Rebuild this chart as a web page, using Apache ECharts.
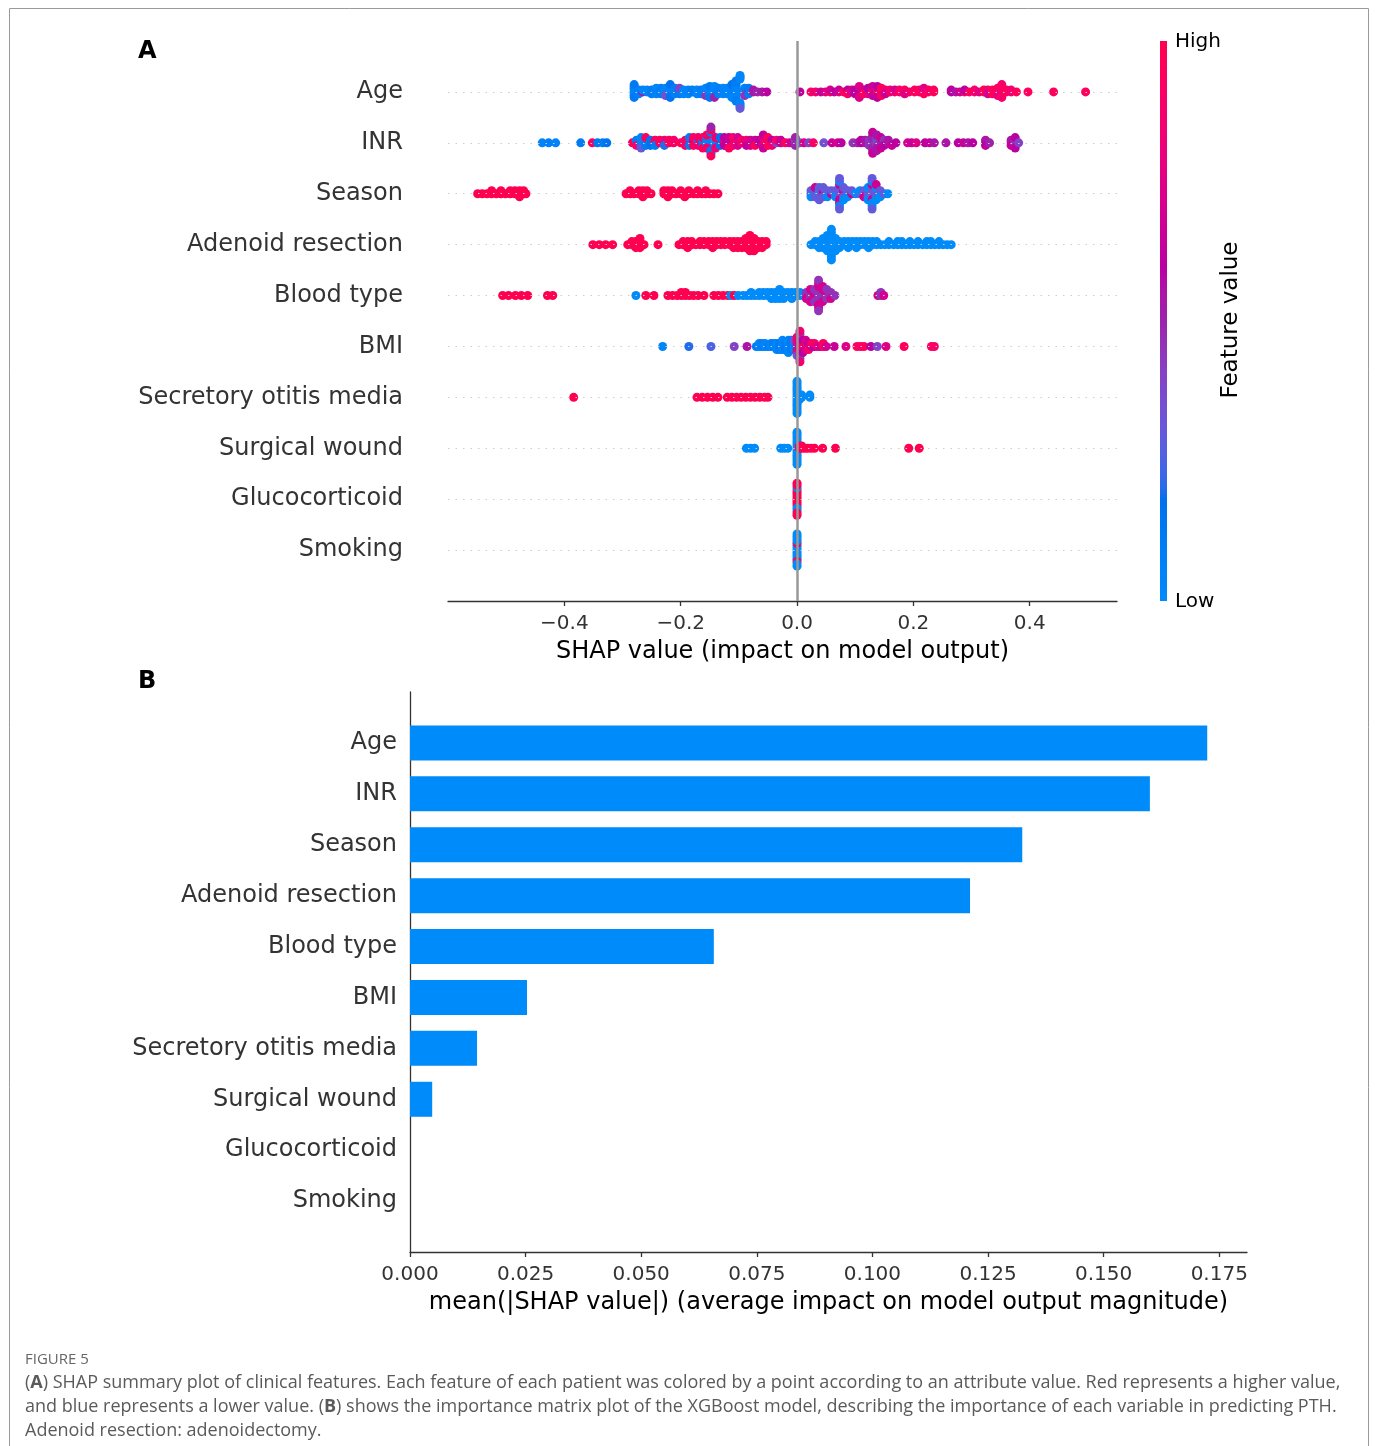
<!DOCTYPE html>
<html>
<head>
<meta charset="utf-8">
<script src="https://cdn.jsdelivr.net/npm/echarts@6/dist/echarts.min.js"></script>
<style>
  html, body { margin: 0; padding: 0; background: #fff; }
  #chart { width: 1375px; height: 1446px; }
</style>
</head>
<body>
<div id="chart"></div>
<script>
// Features, most important first
const featureNames = ['Age', 'INR', 'Season', 'Adenoid resection', 'Blood type', 'BMI',
  'Secretory otitis media', 'Surgical wound', 'Glucocorticoid', 'Smoking'];

// Mean |SHAP| per feature (panel B)
const meanAbsShap = [0.1724, 0.160, 0.1324, 0.1211, 0.0657, 0.0253, 0.0145, 0.0048, 0, 0];

const shapTicks = [-0.4, -0.2, 0.0, 0.2, 0.4];
const meanTicks = [0, 0.025, 0.05, 0.075, 0.1, 0.125, 0.15, 0.175];

// Per-patient SHAP values: [shap value, normalised feature value (0 low .. 1 high), patients]
const ageDots = [
  [-0.280, 0.05, 6], [-0.280, 0.12, 2], [-0.272, 0.08, 3], [-0.265, 0.55, 1], [-0.265, 0.05, 1],
  [-0.258, 0.05, 2], [-0.250, 0.10, 3], [-0.242, 0.40, 1], [-0.242, 0.05, 3], [-0.234, 0.08, 4],
  [-0.226, 0.05, 4], [-0.226, 0.35, 1], [-0.218, 0.05, 6], [-0.218, 0.15, 2], [-0.210, 0.08, 4],
  [-0.202, 0.10, 3], [-0.202, 0.40, 1], [-0.195, 0.05, 3], [-0.187, 0.05, 3], [-0.180, 0.10, 2],
  [-0.172, 0.05, 3], [-0.165, 0.08, 3], [-0.157, 0.05, 4], [-0.157, 0.45, 1], [-0.150, 0.05, 5],
  [-0.150, 0.12, 2], [-0.142, 0.05, 6], [-0.142, 0.50, 1], [-0.135, 0.08, 4], [-0.127, 0.45, 2],
  [-0.127, 0.05, 2], [-0.120, 0.05, 4], [-0.112, 0.05, 7], [-0.112, 0.15, 1], [-0.105, 0.05, 9],
  [-0.105, 0.10, 3], [-0.098, 0.05, 6], [-0.098, 0.30, 1], [-0.090, 0.08, 4], [-0.090, 0.45, 1],
  [-0.083, 0.50, 2], [-0.083, 0.10, 2], [-0.075, 0.55, 2], [-0.068, 0.50, 1], [-0.060, 0.55, 1],
  [-0.052, 0.60, 1],
  [0.005, 0.60, 1], [0.024, 0.90, 1], [0.032, 0.85, 1], [0.041, 0.65, 1], [0.049, 0.75, 1],
  [0.057, 0.95, 1], [0.057, 0.70, 1], [0.064, 0.60, 1], [0.072, 0.80, 1], [0.072, 0.65, 1],
  [0.080, 0.95, 1], [0.087, 0.60, 2], [0.087, 0.90, 1], [0.094, 0.70, 2], [0.100, 0.60, 3],
  [0.107, 0.60, 5], [0.107, 0.75, 2], [0.114, 0.70, 2], [0.114, 0.95, 1], [0.122, 0.80, 3],
  [0.122, 0.60, 1], [0.130, 0.90, 4], [0.130, 0.65, 2], [0.138, 0.85, 5], [0.138, 0.60, 2],
  [0.145, 0.75, 3], [0.145, 0.95, 2], [0.152, 0.90, 2], [0.152, 0.65, 1], [0.160, 0.85, 2],
  [0.168, 0.95, 1], [0.168, 0.70, 1], [0.176, 0.90, 2], [0.185, 0.95, 2], [0.185, 0.75, 1],
  [0.193, 0.85, 1], [0.202, 0.95, 2], [0.210, 0.90, 2], [0.218, 0.95, 3], [0.218, 0.75, 1],
  [0.226, 0.90, 2], [0.235, 0.95, 2], [0.265, 0.60, 2], [0.273, 0.55, 1], [0.280, 0.70, 1],
  [0.288, 0.85, 1], [0.288, 0.60, 1], [0.296, 0.95, 1], [0.305, 0.90, 2], [0.313, 0.75, 1],
  [0.321, 0.95, 2], [0.328, 0.90, 2], [0.328, 0.70, 1], [0.336, 0.95, 3], [0.345, 0.95, 4],
  [0.345, 0.80, 1], [0.352, 0.90, 3], [0.360, 0.95, 2], [0.368, 0.85, 2], [0.377, 0.95, 1],
  [0.397, 0.95, 1], [0.441, 0.95, 1], [0.496, 0.95, 1]
];

const inrDots = [
  [-0.438, 0.05, 1], [-0.427, 0.08, 1], [-0.415, 0.05, 1], [-0.372, 0.10, 1], [-0.352, 0.95, 1],
  [-0.343, 0.12, 1], [-0.334, 0.10, 1], [-0.327, 0.15, 1], [-0.283, 0.95, 1], [-0.276, 0.10, 2],
  [-0.276, 0.90, 1], [-0.268, 0.05, 4], [-0.268, 0.30, 1], [-0.260, 0.10, 3], [-0.260, 0.95, 1],
  [-0.252, 0.35, 1], [-0.252, 0.15, 2], [-0.244, 0.90, 2], [-0.244, 0.10, 1], [-0.236, 0.95, 2],
  [-0.228, 0.85, 2], [-0.228, 0.20, 1], [-0.220, 0.95, 2], [-0.212, 0.90, 2], [-0.200, 0.95, 1],
  [-0.192, 0.40, 1], [-0.192, 0.90, 2], [-0.185, 0.95, 2], [-0.185, 0.10, 2], [-0.178, 0.60, 2],
  [-0.178, 0.95, 2], [-0.170, 0.05, 2], [-0.170, 0.85, 2], [-0.162, 0.10, 3], [-0.162, 0.95, 2],
  [-0.155, 0.05, 4], [-0.155, 0.90, 2], [-0.148, 0.10, 3], [-0.148, 0.95, 2], [-0.148, 0.50, 1],
  [-0.140, 0.05, 3], [-0.140, 0.85, 2], [-0.132, 0.95, 2], [-0.132, 0.15, 2], [-0.125, 0.90, 2],
  [-0.125, 0.60, 2], [-0.117, 0.65, 4], [-0.117, 0.95, 1], [-0.110, 0.60, 2], [-0.110, 0.90, 2],
  [-0.102, 0.95, 2], [-0.102, 0.70, 2], [-0.095, 0.90, 2], [-0.087, 0.85, 2], [-0.087, 0.60, 1],
  [-0.080, 0.70, 3], [-0.072, 0.65, 2], [-0.072, 0.95, 1], [-0.065, 0.60, 2], [-0.058, 0.90, 2],
  [-0.058, 0.65, 2], [-0.050, 0.75, 2], [-0.050, 0.95, 2], [-0.043, 0.60, 2], [-0.043, 0.85, 1],
  [-0.035, 0.35, 1], [-0.035, 0.90, 1], [-0.028, 0.65, 2], [-0.020, 0.95, 1], [-0.013, 0.70, 1],
  [-0.003, 0.35, 2], [-0.003, 0.50, 2], [0.005, 0.30, 1], [0.012, 0.75, 1], [0.020, 0.40, 1],
  [0.028, 0.90, 1], [0.046, 0.35, 1], [0.060, 0.65, 1], [0.070, 0.70, 1], [0.076, 0.60, 1],
  [0.096, 0.45, 1], [0.104, 0.50, 1], [0.110, 0.60, 2], [0.117, 0.55, 2], [0.124, 0.45, 3],
  [0.130, 0.50, 4], [0.130, 0.65, 2], [0.137, 0.40, 4], [0.137, 0.55, 3], [0.144, 0.50, 3],
  [0.144, 0.65, 2], [0.150, 0.45, 2], [0.150, 0.60, 1], [0.157, 0.55, 2], [0.163, 0.65, 1],
  [0.170, 0.60, 1], [0.190, 0.70, 1], [0.197, 0.65, 1], [0.205, 0.75, 1], [0.220, 0.60, 1],
  [0.228, 0.65, 1], [0.236, 0.55, 1], [0.256, 0.55, 1], [0.277, 0.60, 1], [0.286, 0.65, 1],
  [0.294, 0.55, 1], [0.302, 0.60, 1], [0.324, 0.55, 2], [0.324, 0.60, 1], [0.331, 0.50, 1],
  [0.368, 0.55, 2], [0.368, 0.65, 1], [0.375, 0.45, 3], [0.375, 0.60, 2], [0.381, 0.40, 1]
];

const seasonDots = [
  [-0.549, 1, 1], [-0.541, 1, 1], [-0.533, 1, 1], [-0.525, 1, 2], [-0.517, 1, 1], [-0.509, 1, 2],
  [-0.501, 1, 1], [-0.493, 1, 2], [-0.485, 1, 2], [-0.477, 1, 3], [-0.470, 1, 2], [-0.466, 1, 1],
  [-0.294, 1, 1], [-0.287, 1, 2], [-0.280, 1, 1], [-0.272, 1, 2], [-0.265, 1, 3], [-0.258, 1, 2],
  [-0.251, 1, 1], [-0.229, 1, 2], [-0.222, 1, 3], [-0.215, 1, 2], [-0.208, 1, 1], [-0.200, 1, 2],
  [-0.193, 1, 1], [-0.186, 1, 2], [-0.178, 1, 1], [-0.171, 1, 2], [-0.164, 1, 1], [-0.157, 1, 2],
  [-0.150, 1, 1], [-0.143, 1, 1], [-0.136, 1, 1],
  [0.024, 0.30, 2], [0.024, 0, 1], [0.031, 0.30, 3], [0.031, 0.67, 1], [0.038, 0, 2],
  [0.038, 0.30, 3], [0.045, 0.67, 2], [0.045, 0.30, 2], [0.052, 0.30, 2], [0.052, 0, 1],
  [0.059, 0.67, 1], [0.059, 0.30, 1], [0.066, 0.30, 2], [0.066, 0, 1], [0.073, 0.30, 4],
  [0.073, 0.67, 3], [0.073, 0, 2], [0.073, 0.30, 2], [0.080, 0.67, 2], [0.080, 0.30, 2],
  [0.080, 0, 1], [0.087, 0.30, 2], [0.087, 0, 1], [0.094, 0.67, 1], [0.094, 0.30, 1],
  [0.101, 0, 1], [0.108, 0.30, 1], [0.108, 0, 1], [0.115, 0.30, 2], [0.115, 0.67, 1],
  [0.122, 0.30, 3], [0.122, 0, 2], [0.129, 0.30, 4], [0.129, 0.67, 2], [0.129, 0, 3],
  [0.129, 0.30, 2], [0.136, 0.30, 3], [0.136, 0, 2], [0.136, 0.67, 1], [0.143, 0.30, 2],
  [0.143, 0, 1], [0.150, 0.30, 1], [0.156, 0, 1]
];

const adenoidDots = [
  [-0.351, 1, 1], [-0.340, 1, 1], [-0.329, 1, 1], [-0.317, 1, 1], [-0.291, 1, 1], [-0.284, 1, 2],
  [-0.277, 1, 3], [-0.270, 1, 4], [-0.263, 1, 1], [-0.239, 1, 1], [-0.203, 1, 1], [-0.196, 1, 2],
  [-0.188, 1, 3], [-0.181, 1, 2], [-0.174, 1, 1], [-0.167, 1, 2], [-0.160, 1, 2], [-0.152, 1, 2],
  [-0.145, 1, 3], [-0.138, 1, 2], [-0.131, 1, 2], [-0.124, 1, 2], [-0.116, 1, 2], [-0.109, 1, 3],
  [-0.102, 1, 3], [-0.095, 1, 3], [-0.088, 1, 4], [-0.081, 1, 6], [-0.074, 1, 5], [-0.067, 1, 3],
  [-0.060, 1, 3], [-0.053, 1, 2],
  [0.024, 0, 1], [0.031, 0, 2], [0.038, 0, 3], [0.045, 0, 4], [0.052, 0, 6], [0.059, 0, 11],
  [0.066, 0, 5], [0.073, 0, 3], [0.081, 0, 2], [0.088, 0, 3], [0.095, 0, 2], [0.102, 0, 3],
  [0.109, 0, 2], [0.116, 0, 2], [0.123, 0, 3], [0.130, 0, 2], [0.137, 0, 2], [0.144, 0, 1],
  [0.151, 0, 1], [0.158, 0, 2], [0.166, 0, 1], [0.173, 0, 2], [0.180, 0, 2], [0.187, 0, 1],
  [0.194, 0, 2], [0.201, 0, 1], [0.208, 0, 2], [0.216, 0, 1], [0.223, 0, 2], [0.230, 0, 2],
  [0.237, 0, 1], [0.244, 0, 2], [0.251, 0, 1], [0.258, 0, 1], [0.265, 0, 1]
];

const bloodDots = [
  [-0.506, 1, 1], [-0.496, 1, 1], [-0.484, 1, 1], [-0.474, 1, 1], [-0.463, 1, 1], [-0.429, 1, 1],
  [-0.420, 1, 1], [-0.277, 0, 1], [-0.260, 1, 1], [-0.246, 1, 1], [-0.222, 1, 1], [-0.214, 1, 1],
  [-0.206, 1, 1], [-0.199, 1, 2], [-0.192, 1, 2], [-0.185, 1, 1], [-0.178, 1, 1], [-0.170, 1, 1],
  [-0.160, 1, 1], [-0.143, 1, 1], [-0.135, 1, 1], [-0.127, 1, 1], [-0.119, 1, 1], [-0.114, 0, 1],
  [-0.108, 1, 1], [-0.101, 0, 1], [-0.093, 0, 1], [-0.086, 0, 1], [-0.079, 0, 2], [-0.072, 0, 1],
  [-0.065, 0, 2], [-0.058, 0, 2], [-0.051, 0, 2], [-0.044, 0, 3], [-0.037, 0, 3], [-0.030, 0, 4],
  [-0.023, 0, 3], [-0.016, 0, 2], [-0.009, 0, 3], [-0.002, 0, 2], [0.005, 0, 2], [0.012, 0, 1],
  [0.016, 0.45, 2], [0.016, 0.70, 1], [0.023, 0.45, 3], [0.023, 0.70, 2], [0.030, 0.70, 3],
  [0.030, 0.45, 2], [0.037, 0.45, 5], [0.037, 0.70, 4], [0.037, 0.45, 2], [0.044, 0.45, 3],
  [0.044, 0.70, 3], [0.051, 0.70, 2], [0.051, 0.45, 2], [0.058, 0.45, 2], [0.058, 0.70, 1],
  [0.065, 0.45, 1], [0.139, 0.70, 1], [0.144, 0.45, 2], [0.149, 0.70, 1]
];

const bmiDots = [
  [-0.231, 0.05, 1], [-0.186, 0.20, 1], [-0.148, 0.25, 1], [-0.108, 0.40, 1], [-0.086, 0.55, 1],
  [-0.070, 0.10, 1], [-0.065, 0.05, 2], [-0.060, 0.10, 2], [-0.055, 0.05, 2], [-0.050, 0.10, 1],
  [-0.045, 0.05, 2], [-0.040, 0.10, 2], [-0.035, 0.05, 3], [-0.030, 0.10, 3], [-0.025, 0.05, 4],
  [-0.020, 0.10, 3], [-0.015, 0.05, 5], [-0.010, 0.10, 4], [-0.005, 0.05, 3], [-0.005, 0.30, 1],
  [0.000, 0.50, 3], [0.000, 0.85, 3], [0.000, 0.30, 1], [0.005, 0.70, 4], [0.005, 0.95, 3],
  [0.005, 0.40, 2], [0.005, 0.85, 2], [0.010, 0.90, 3], [0.010, 0.60, 2], [0.015, 0.95, 2],
  [0.015, 0.70, 2], [0.020, 0.60, 2], [0.020, 0.90, 1], [0.025, 0.65, 1], [0.025, 0.95, 1],
  [0.030, 0.60, 1], [0.030, 0.90, 1], [0.035, 0.75, 1], [0.040, 0.65, 1], [0.045, 0.95, 2],
  [0.050, 0.70, 1], [0.064, 0.65, 1], [0.084, 0.75, 1], [0.103, 0.95, 1], [0.109, 0.90, 1],
  [0.115, 0.95, 1], [0.127, 0.60, 1], [0.138, 0.40, 1], [0.153, 0.75, 1], [0.184, 0.95, 1],
  [0.231, 0.95, 1], [0.236, 0.90, 1]
];

const otitisDots = [
  [-0.384, 1, 1], [-0.172, 1, 1], [-0.163, 1, 1], [-0.154, 1, 1], [-0.145, 1, 1], [-0.136, 1, 1],
  [-0.120, 1, 1], [-0.112, 1, 1], [-0.104, 1, 1], [-0.096, 1, 1], [-0.088, 1, 1], [-0.080, 1, 1],
  [-0.072, 1, 1], [-0.064, 1, 1], [-0.056, 1, 1], [-0.050, 1, 1],
  [0.000, 0, 15], [0.004, 0, 3], [0.008, 0, 2], [0.022, 0, 2]
];

const woundDots = [
  [-0.087, 0, 1], [-0.080, 0, 1], [-0.073, 0, 1], [-0.028, 0, 1], [-0.022, 0, 1], [-0.016, 0, 1],
  [0.000, 0, 15], [0.004, 1, 2], [0.008, 1, 2], [0.013, 1, 1], [0.018, 1, 1], [0.024, 1, 1],
  [0.030, 1, 1], [0.044, 1, 1], [0.066, 1, 1], [0.192, 1, 1], [0.210, 1, 1]
];

const glucoDots = [
  [0, 1, 1], [0, 1, 1], [0, 1, 1], [0, 1, 1], [0, 1, 1], [0, 1, 1], [0, 1, 1], [0, 1, 1],
  [0, 0, 1], [0, 0, 1], [0, 0, 1], [0, 1, 1], [0, 1, 1], [0, 1, 1], [0, 1, 1]
];

const smokingDots = [
  [0, 0, 1], [0, 0, 1], [0, 0, 1], [0, 0, 1], [0, 0, 1], [0, 1, 1], [0, 0, 1], [0, 0, 1],
  [0, 0, 1], [0, 0, 1], [0, 1, 1], [0, 0, 1], [0, 0, 1], [0, 0, 1], [0, 0, 1]
];

const dotsByFeature = [ageDots, inrDots, seasonDots, adenoidDots, bloodDots, bmiDots,
  otitisDots, woundDots, glucoDots, smokingDots];

// ---- red/blue colormap: blue -> purple -> red, interpolated in LCH space ----
function lchToRgb(L, C, H) {
  const a = C * Math.cos(H), b = C * Math.sin(H);
  const fy = (L + 16) / 116, fx = fy + a / 500, fz = fy - b / 200;
  const inv = t => (t > 0.2068966 ? t * t * t : (t - 16 / 116) / 7.787);
  const X = 0.95047 * inv(fx), Y = inv(fy), Z = 1.08883 * Math.max(0, inv(fz));
  const r = 3.24048134 * X - 1.53715152 * Y - 0.49853633 * Z;
  const g = -0.96925495 * X + 1.87599 * Y + 0.04155593 * Z;
  const bl = 0.05564664 * X - 0.20404134 * Y + 1.05731107 * Z;
  const gam = c => {
    c = c > 0.0031308 ? 1.055 * Math.pow(c, 1 / 2.4) - 0.055 : 12.92 * c;
    return Math.round(Math.min(1, Math.max(0, c)) * 255);
  };
  return 'rgb(' + gam(r) + ',' + gam(g) + ',' + gam(bl) + ')';
}
function redBlue(steps) {
  const out = [];
  const blueLch = [54, 70, 4.6588], redLch = [54, 90, 0.35470565 + 2 * Math.PI], lMid = 40;
  const half = steps / 2;
  for (let i = 0; i < steps; i++) {
    const L = i < half ? blueLch[0] + (lMid - blueLch[0]) * i / (half - 1)
                       : lMid + (redLch[0] - lMid) * (i - half) / (half - 1);
    const t = i / (steps - 1);
    out.push(lchToRgb(L, blueLch[1] + (redLch[1] - blueLch[1]) * t, blueLch[2] + (redLch[2] - blueLch[2]) * t));
  }
  return out;
}
const cmap = redBlue(100);

// ---- beeswarm vertical offsets (bins of equal width, alternating up/down) ----
const ROW_HEIGHT = 0.4;
function swarmOffsets(shaps) {
  const n = shaps.length;
  const lo = Math.min(...shaps), hi = Math.max(...shaps);
  const quant = shaps.map(s => Math.round(100 * (s - lo) / (hi - lo + 1e-8)));
  const order = shaps.map((_, i) => i).sort((a, b) => quant[a] - quant[b] || a - b);
  const ys = new Array(n).fill(0);
  let layer = 0, last = -1;
  order.forEach(i => {
    if (quant[i] !== last) layer = 0;
    ys[i] = Math.ceil(layer / 2) * ((layer % 2) * 2 - 1);
    layer++;
    last = quant[i];
  });
  const m = Math.max(...ys) + 1;
  return ys.map(y => y * 0.9 * ROW_HEIGHT / m);
}

const nRows = featureNames.length;
const swarmData = [];
for (let i = nRows - 1; i >= 0; i--) {
  const pts = [];
  dotsByFeature[i].forEach(([s, v, c]) => { for (let k = 0; k < c; k++) pts.push([s, v]); });
  const ys = swarmOffsets(pts.map(p => p[0]));
  const pos = nRows - 1 - i;
  pts.forEach((p, k) => swarmData.push([p[0], pos + ys[k], p[1]]));
}

const FONT = 'DejaVu Sans';
const AXIS = '#333333';
const fmtShap = v => (v < 0 ? '\u2212' : '') + Math.abs(v).toFixed(1);

const rowLines = featureNames.map((_, i) => ({ yAxis: i }));

const chart = echarts.init(document.getElementById('chart'), null, { renderer: 'canvas' });
chart.setOption({
  animation: false,
  backgroundColor: '#ffffff',
  textStyle: { fontFamily: FONT },
  grid: [
    { left: 448, top: 41, width: 669, height: 560 },
    { left: 410, top: 692, width: 837, height: 560 }
  ],
  xAxis: [
    {
      gridIndex: 0, type: 'value', min: -0.6, max: 0.55,
      axisLine: { show: true, onZero: false, lineStyle: { color: AXIS, width: 1.3 } },
      axisTick: { show: true, customValues: shapTicks, length: 5, lineStyle: { color: AXIS, width: 1.3 } },
      axisLabel: { customValues: shapTicks, formatter: fmtShap, color: AXIS, fontSize: 20, fontFamily: FONT, margin: 13 },
      splitLine: { show: false },
      name: 'SHAP value (impact on model output)', nameLocation: 'middle', nameGap: 39,
      nameTextStyle: { color: '#000', fontSize: 24, fontFamily: FONT }
    },
    {
      gridIndex: 1, type: 'value', min: 0, max: 0.181,
      axisLine: { show: true, onZero: false, lineStyle: { color: AXIS, width: 1.3 } },
      axisTick: { show: true, customValues: meanTicks, length: 5, lineStyle: { color: AXIS, width: 1.3 } },
      axisLabel: { customValues: meanTicks, formatter: v => v.toFixed(3), color: AXIS, fontSize: 20, fontFamily: FONT, margin: 13 },
      splitLine: { show: false },
      name: 'mean(|SHAP value|) (average impact on model output magnitude)', nameLocation: 'middle', nameGap: 39,
      nameTextStyle: { color: '#000', fontSize: 24, fontFamily: FONT }
    }
  ],
  yAxis: [
    {
      gridIndex: 0, type: 'value', min: -1, max: nRows, interval: 1,
      axisLine: { show: false }, axisTick: { show: false }, splitLine: { show: false },
      axisLabel: {
        margin: 45, color: AXIS, fontSize: 24, fontFamily: FONT, padding: [6, 0, 0, 0],
        formatter: v => (v >= 0 && v < nRows ? featureNames[nRows - 1 - v] : '')
      }
    },
    {
      gridIndex: 1, type: 'category', inverse: true, boundaryGap: false,
      data: [''].concat(featureNames, ['']),
      axisLine: { show: true, onZero: false, lineStyle: { color: AXIS, width: 1.3 } },
      axisTick: { show: false }, splitLine: { show: false },
      axisLabel: { interval: 0, margin: 13, color: AXIS, fontSize: 24, fontFamily: FONT, padding: [6, 0, 0, 0] }
    }
  ],
  visualMap: {
    type: 'continuous', show: false, seriesIndex: 1, dimension: 2, min: 0, max: 1,
    inRange: { color: cmap }
  },
  series: [
    {
      // guide lines behind the dots
      type: 'line', xAxisIndex: 0, yAxisIndex: 0, data: [], z: 1, silent: true,
      markLine: {
        silent: true, symbol: 'none', label: { show: false },
        data: rowLines.map(d => Object.assign({}, d, { lineStyle: { color: '#cccccc', width: 1, type: [1.5, 6] } }))
          .concat([{ xAxis: 0, lineStyle: { color: '#999999', width: 2.5, type: 'solid' } }])
      }
    },
    {
      type: 'scatter', xAxisIndex: 0, yAxisIndex: 0, z: 3,
      symbol: 'circle', symbolSize: 9,
      itemStyle: { opacity: 1, borderWidth: 0 },
      data: swarmData
    },
    {
      type: 'bar', xAxisIndex: 1, yAxisIndex: 1, barWidth: 35,
      itemStyle: { color: '#008bfb' },
      data: [null].concat(meanAbsShap, [null])
    }
  ],
  graphic: [
    {
      type: 'rect', silent: true,
      shape: { x: 9.5, y: 8.5, width: 1359, height: 1460 },
      style: { fill: 'none', stroke: '#9a9a9a', lineWidth: 1 }
    },
    {
      type: 'rect', silent: true,
      shape: { x: 1160, y: 41, width: 7, height: 560 },
      style: {
        fill: new echarts.graphic.LinearGradient(0, 0, 0, 1,
          cmap.slice().reverse().map((c, i, arr) => ({ offset: i / (arr.length - 1), color: c })))
      }
    },
    { type: 'text', x: 1175, y: 42, style: { text: 'High', font: '20px "DejaVu Sans"', fill: '#000', textVerticalAlign: 'middle' } },
    { type: 'text', x: 1175, y: 602, style: { text: 'Low', font: '20px "DejaVu Sans"', fill: '#000', textVerticalAlign: 'middle' } },
    {
      type: 'text', x: 1231, y: 320, rotation: Math.PI / 2,
      style: { text: 'Feature value', font: '23px "DejaVu Sans"', fill: '#000', textAlign: 'center', textVerticalAlign: 'middle' }
    },
    { type: 'text', x: 138, y: 52, style: { text: 'A', font: 'bold 24px "DejaVu Sans"', fill: '#000', textVerticalAlign: 'middle' } },
    { type: 'text', x: 138, y: 682, style: { text: 'B', font: 'bold 24px "DejaVu Sans"', fill: '#000', textVerticalAlign: 'middle' } },
    { type: 'text', x: 25, y: 1360, style: { text: 'FIGURE 5', font: '15px "Open Sans"', fill: '#666666', textVerticalAlign: 'middle' } },
    {
      type: 'text', x: 25, y: 1383,
      style: {
        text: '({b|A}) SHAP summary plot of clinical features. Each feature of each patient was colored by a point according to an attribute value. Red represents a higher value,',
        font: '18px "Open Sans"', fill: '#5a5a5a', textVerticalAlign: 'middle',
        rich: { b: { fontWeight: 'bold', fontSize: 18, fontFamily: 'Open Sans', fill: '#5a5a5a' } }
      }
    },
    {
      type: 'text', x: 25, y: 1407,
      style: {
        text: 'and blue represents a lower value. ({b|B}) shows the importance matrix plot of the XGBoost model, describing the importance of each variable in predicting PTH.',
        font: '18px "Open Sans"', fill: '#5a5a5a', textVerticalAlign: 'middle',
        rich: { b: { fontWeight: 'bold', fontSize: 18, fontFamily: 'Open Sans', fill: '#5a5a5a' } }
      }
    },
    {
      type: 'text', x: 25, y: 1431,
      style: { text: 'Adenoid resection: adenoidectomy.', font: '18px "Open Sans"', fill: '#5a5a5a', textVerticalAlign: 'middle' }
    }
  ]
});
</script>
</body>
</html>
